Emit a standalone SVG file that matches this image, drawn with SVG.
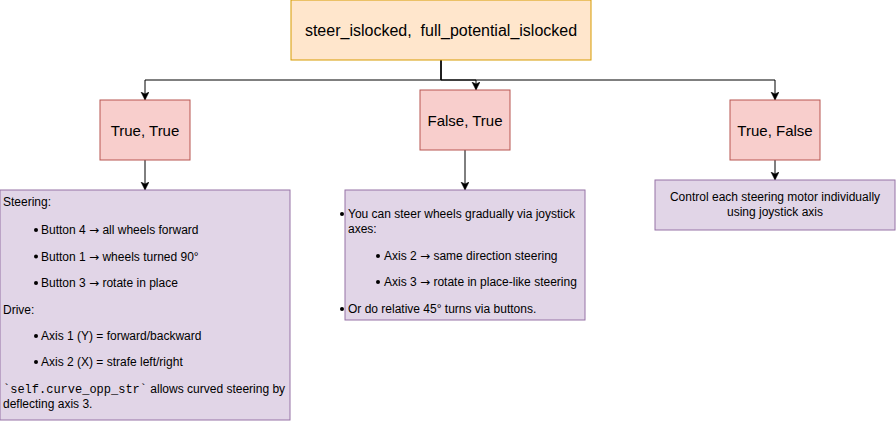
<svg xmlns="http://www.w3.org/2000/svg" width="896" height="426" viewBox="0 0 896 426">
  <style>
    text { font-family: "Liberation Sans", Arial, sans-serif; fill: #000; }
    .t12 { font-size: 12px; }
    .t15 { font-size: 15px; text-anchor: middle; }
    .t16 { font-size: 16px; text-anchor: middle; }
    .mono { font-family: "Liberation Mono", "Courier New", monospace; }
    .arr { font-family: "DejaVu Sans", sans-serif; }
    .orange { fill: #ffe6cc; stroke: #d79b00; stroke-width: 1; }
    .red { fill: #f8cecc; stroke: #b85450; stroke-width: 1; }
    .purple { fill: #e1d5e7; stroke: #9673a6; stroke-width: 1; }
    .edge { fill: none; stroke: #000; stroke-width: 1; marker-end: url(#arrow); }
    .dot { fill: #000; }
  </style>
  <defs>
    <marker id="arrow" markerUnits="userSpaceOnUse" markerWidth="10" markerHeight="10" refX="8" refY="4" orient="auto">
      <path d="M0,0 L8,4 L0,8 L2,4 Z" fill="#000" stroke="#000" stroke-width="0.5"/>
    </marker>
  </defs>

  <g id="connectors">
    <path class="edge" d="M441,60 V80 H145 V100"/>
    <path class="edge" d="M441,60 V80 H476 V90"/>
    <path class="edge" d="M441,60 V80 H775 V100"/>
    <path class="edge" d="M145,160 V190"/>
    <path class="edge" d="M465,150 V190"/>
    <path class="edge" d="M775,160 V180"/>
  </g>

  <g id="root">
    <rect class="orange" x="291" y="0" width="300" height="60"/>
    <text class="t16" x="441" y="35.5" xml:space="preserve">steer_islocked,  full_potential_islocked</text>
  </g>

  <g id="true-true">
    <rect class="red" x="100" y="100" width="90" height="60"/>
    <text class="t15" x="145" y="135.5">True, True</text>
  </g>

  <g id="false-true">
    <rect class="red" x="420" y="90" width="90" height="60"/>
    <text class="t15" x="465" y="125.5">False, True</text>
  </g>

  <g id="true-false">
    <rect class="red" x="730" y="100" width="90" height="60"/>
    <text class="t15" x="775" y="135.5">True, False</text>
  </g>

  <g id="desc-true-true">
    <rect class="purple" x="0" y="190" width="290" height="230"/>
    <text class="t12" x="3" y="206">Steering:</text>
    <circle class="dot" cx="36" cy="230" r="2"/>
    <text class="t12" x="41" y="234">Button 4 <tspan class="arr">→</tspan> all wheels forward</text>
    <circle class="dot" cx="36" cy="256.5" r="2"/>
    <text class="t12" x="41" y="260.5">Button 1 <tspan class="arr">→</tspan> wheels turned 90°</text>
    <circle class="dot" cx="36" cy="283" r="2"/>
    <text class="t12" x="41" y="287">Button 3 <tspan class="arr">→</tspan> rotate in place</text>
    <text class="t12" x="3" y="313.5">Drive:</text>
    <circle class="dot" cx="36" cy="336" r="2"/>
    <text class="t12" x="41" y="340">Axis 1 (Y) = forward/backward</text>
    <circle class="dot" cx="36" cy="362" r="2"/>
    <text class="t12" x="41" y="366">Axis 2 (X) = strafe left/right</text>
    <text class="t12" x="3" y="392.5"><tspan class="mono">`self.curve_opp_str`</tspan> allows curved steering by</text>
    <text class="t12" x="3" y="407.5">deflecting axis 3.</text>
  </g>

  <g id="desc-false-true">
    <rect class="purple" x="345" y="190" width="240" height="130"/>
    <circle class="dot" cx="342" cy="214" r="2"/>
    <text class="t12" x="348" y="218">You can steer wheels gradually via joystick</text>
    <text class="t12" x="348" y="233">axes:</text>
    <circle class="dot" cx="378" cy="256" r="2"/>
    <text class="t12" x="384" y="260">Axis 2 <tspan class="arr">→</tspan> same direction steering</text>
    <circle class="dot" cx="378" cy="282" r="2"/>
    <text class="t12" x="384" y="286">Axis 3 <tspan class="arr">→</tspan> rotate in place-like steering</text>
    <circle class="dot" cx="342" cy="309" r="2"/>
    <text class="t12" x="348" y="313">Or do relative 45° turns via buttons.</text>
  </g>

  <g id="desc-true-false">
    <rect class="purple" x="655" y="180" width="240" height="50"/>
    <text class="t12" x="775" y="201" text-anchor="middle">Control each steering motor individually</text>
    <text class="t12" x="775" y="216" text-anchor="middle">using joystick axis</text>
  </g>
</svg>
